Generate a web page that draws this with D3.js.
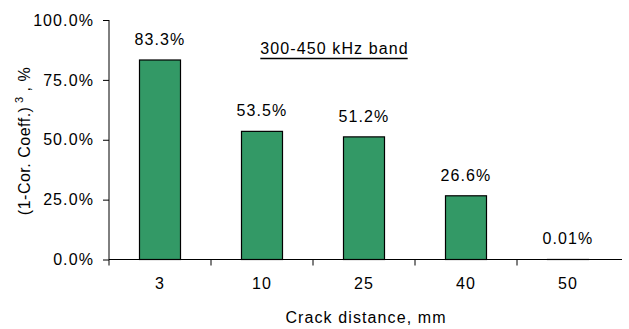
<!DOCTYPE html>
<html><head><meta charset="utf-8">
<script src="https://cdn.jsdelivr.net/npm/d3@7"></script>
<style>
html,body{margin:0;padding:0;background:#fff;}
text{font-family:"Liberation Sans",Arial,sans-serif;fill:#000;}
</style></head>
<body>
<svg id="chart" width="629" height="329"></svg>
<script>
const categories = ["3", "10", "25", "40", "50"];
const values = [83.3, 53.5, 51.2, 26.6, 0.01];
const valueLabels = ["83.3%", "53.5%", "51.2%", "26.6%", "0.01%"];
const yTicks = [0, 25, 50, 75, 100];
const yTickLabels = ["0.0%", "25.0%", "50.0%", "75.0%", "100.0%"];
const titleText = "300-450 kHz band";
const xTitle = "Crack distance, mm";

(function () {
const svg = d3.select("#chart");
const pl = 109, pr = 619, pt = 20, pb = 259.5;
const fs = "16px", ls = "1.1px";

const xb = d3.scaleBand().domain(categories).range([pl, pr]);
const y = d3.scaleLinear().domain([0, 100]).range([pb, pt]);

// bars
svg.append("g").selectAll("rect").data(values).join("rect")
  .attr("x", (d, i) => xb(categories[i]) + xb.bandwidth() / 2 - 20.5)
  .attr("width", 41)
  .attr("y", d => y(d))
  .attr("height", d => pb - y(d))
  .attr("fill", "#339966")
  .attr("stroke", "#000")
  .attr("stroke-width", 1.2);

// y axis
const ya = svg.append("g").attr("transform", `translate(${pl},0)`)
  .call(d3.axisLeft(y).tickValues(yTicks).tickSize(6).tickPadding(9)
    .tickFormat((d, i) => yTickLabels[i]));
ya.selectAll("text").style("font-size", fs).style("letter-spacing", ls);

// x axis
const xa = svg.append("g").attr("transform", `translate(0,${pb})`)
  .call(d3.axisBottom(xb).tickSize(0).tickPadding(18));
xa.selectAll("text").style("font-size", fs).style("letter-spacing", ls);
xa.selectAll("line.sep").data(categories).join("line").attr("class", "sep")
  .attr("x1", d => xb(d)).attr("x2", d => xb(d))
  .attr("y1", 0).attr("y2", 6).attr("stroke", "#000");
[ya, xa].forEach(g => { g.select(".domain").attr("stroke", "#000"); g.selectAll(".tick line").attr("stroke", "#000"); });
xa.select(".domain").attr("d", `M${pl},0H${pr + 3}`);
ya.select(".domain").attr("d", `M0,${pt}V${pb}`);

// value labels
svg.append("g").selectAll("text").data(values).join("text")
  .attr("x", (d, i) => xb(categories[i]) + xb.bandwidth() / 2)
  .attr("y", d => y(d) - 15)
  .attr("text-anchor", "middle")
  .style("font-size", fs).style("letter-spacing", ls)
  .text((d, i) => valueLabels[i]);

// title
const t = svg.append("text").attr("x", 334.5).attr("y", 54)
  .attr("text-anchor", "middle").style("font-size", fs).style("letter-spacing", ls)
  .text(titleText);
const bb = t.node().getBBox();
svg.append("line").attr("x1", bb.x).attr("x2", bb.x + bb.width - 1)
  .attr("y1", 58.5).attr("y2", 58.5).attr("stroke", "#000").attr("stroke-width", 1.3);

// x title
svg.append("text").attr("x", 366).attr("y", 323)
  .attr("text-anchor", "middle").style("font-size", fs).style("letter-spacing", ls)
  .text(xTitle);

// y title
const yt = svg.append("text").attr("transform", "translate(30,141) rotate(-90)")
  .attr("text-anchor", "middle").style("font-size", fs).style("letter-spacing", "0.5px");
yt.append("tspan").text("(1-Cor. Coeff.)");
yt.append("tspan").attr("dy", -7).style("font-size", "11px").text(" 3");
yt.append("tspan").attr("dy", 7).text(" , %");
})();
</script>
</body></html>
